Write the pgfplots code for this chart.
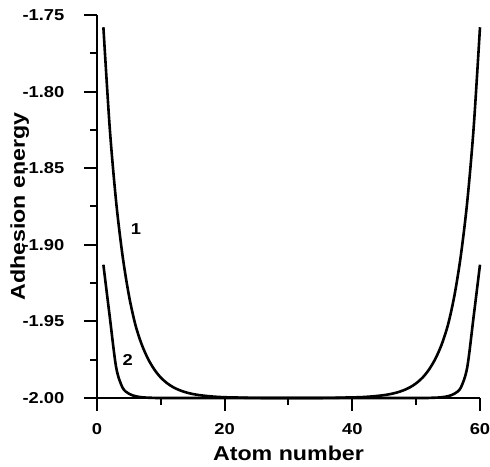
\documentclass[border=0pt]{standalone}
\usepackage{fontspec}
\setmainfont{Liberation Sans}[FakeStretch=1.16]
\usepackage{pgfplots}
\pgfplotsset{compat=1.18}
\begin{document}
\begin{tikzpicture}
\useasboundingbox (-97pt,-68pt) rectangle (393pt,398pt);
\begin{axis}[
  at={(0,0)}, anchor=south west,
  scale only axis, width=383pt, height=383pt,
  xmin=0, xmax=60, ymin=-2, ymax=-1.75,
  axis lines=left,
  axis line style={-, line width=2pt, black},
  tick align=outside,
  major tick length=12.5pt,
  minor tick length=6.5pt,
  tick style={line width=2pt, black},
  xtick={0,20,40,60},
  xticklabels={0,20,40,60},
  minor xtick={10,30,50},
  ytick={-2,-1.95,-1.9,-1.85,-1.8,-1.75},
  yticklabels={-2.00,-1.95,-1.90,-1.85,-1.80,-1.75},
  minor ytick={-1.975,-1.925,-1.875,-1.825,-1.775},
  xticklabel style={font=\fontsize{15.8}{18}\selectfont\bfseries, anchor=north, inner sep=0pt, yshift=-12.5pt},
  yticklabel style={font=\fontsize{15.8}{18}\selectfont\bfseries, anchor=east, inner sep=0pt, xshift=-20pt},
  xlabel={Atom number},
  ylabel={Adhesion energy},
  xlabel style={font=\fontsize{20}{24}\selectfont\bfseries, at={([yshift=-62pt]axis description cs:0.5,0)}, anchor=base, inner sep=0pt},
  ylabel style={font=\fontsize{20}{24}\selectfont\bfseries, at={([xshift=-72pt]axis description cs:0,0.5)}, anchor=base, inner sep=0pt},
  clip=false,
]
\addplot[black, line width=2.6pt, smooth] coordinates {
(1,-1.758) (2,-1.824) (3,-1.872) (4,-1.907) (5,-1.933) (6,-1.952) (7,-1.965) (8,-1.9745) (9,-1.9815) (10,-1.9867)
(11,-1.9904) (12,-1.9931) (13,-1.9950) (14,-1.9964) (15,-1.9974) (16,-1.9981) (17,-1.9986) (18,-1.9990) (19,-1.9993) (20,-1.9995)
(21,-1.9996) (22,-1.9997) (23,-1.9998) (24,-1.9999) (25,-1.9999) (26,-2.0000) (28,-2.0000) (30,-2.0000) (31,-2.0000) (33,-2.0000) (35,-2.0000)
(36,-1.9999) (37,-1.9999) (38,-1.9998) (39,-1.9997) (40,-1.9996) (41,-1.9995) (42,-1.9993) (43,-1.9990) (44,-1.9986) (45,-1.9981)
(46,-1.9974) (47,-1.9964) (48,-1.9950) (49,-1.9931) (50,-1.9904) (51,-1.9867) (52,-1.9815) (53,-1.9745) (54,-1.965) (55,-1.952)
(56,-1.933) (57,-1.907) (58,-1.872) (59,-1.824) (60,-1.758)
};
\addplot[black, line width=2.6pt, smooth] coordinates {
(1,-1.913) (2,-1.947) (3,-1.980) (4,-1.9932) (5,-1.9972) (6,-1.9988) (7,-1.9995) (8,-1.9998) (9,-1.9999) (10,-2.0000)
(20,-2.0000) (30,-2.0000) (40,-2.0000)
(51,-2.0000) (52,-1.9999) (53,-1.9998) (54,-1.9995) (55,-1.9988) (56,-1.9972) (57,-1.9932) (58,-1.980) (59,-1.947) (60,-1.913)
};
\node[font=\fontsize{15.8}{18}\selectfont\bfseries, inner sep=0pt] at (axis cs:6.1,-1.890) {1};
\node[font=\fontsize{15.8}{18}\selectfont\bfseries, inner sep=0pt] at (axis cs:4.83,-1.975) {2};
\end{axis}
\end{tikzpicture}
\end{document}
